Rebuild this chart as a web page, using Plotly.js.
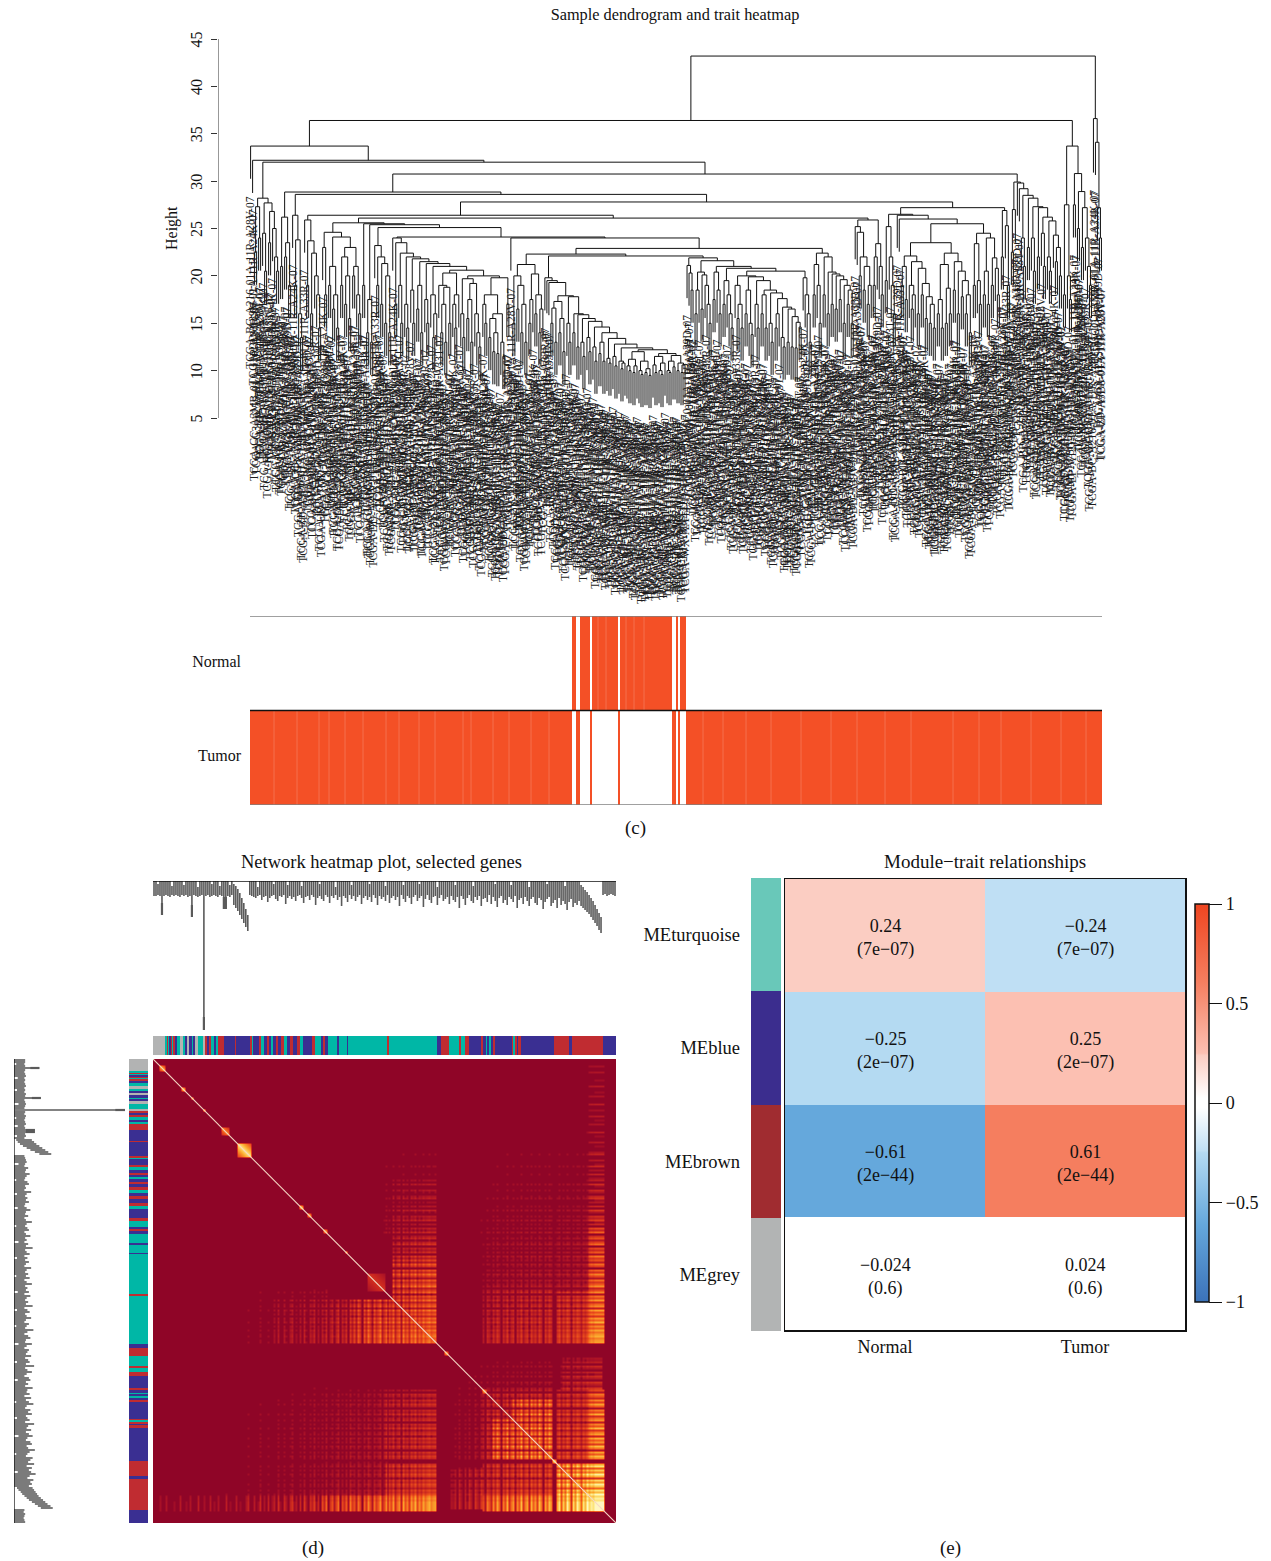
<!DOCTYPE html>
<html><head><meta charset="utf-8">
<script src="https://cdn.plot.ly/plotly-3.0.1.min.js"></script>
<style>html,body{margin:0;padding:0;background:#fff}#g{width:1271px;height:1561px}</style>
</head><body><div id="g"></div>
<script>
// ---------- panel (c): merge height between neighbouring samples, read left to right ----------
const gapsEdge=[33.7,32.2];
const gapsB=[22.5,27.3,24,28.2,24.5,20.5,27.7,23.5,26.8,25,22,20.5,32.0];
const gapsC=[21,26.2,22,23.5,19,28.85];
const gapsD=[26.4,19,23.8,16,13.5,28.6];
const gapsE=[25.9,19,23.7,16,22.4,20,18,14.5,26.4];
const gapsF=[23,18,24.6,19,21,16.5,18,14.5,24.1,19,22,17,20,15.5,23,20,21,18,16,25.6];
const gapsG=[19,25.5];
const gapsH=[14,17.5,13,25.4];
const gapsI=[23.2,19,22,17,21.3,15,20,14,25.1];
const gapsJ=[24,17,23.5,19,15,22.4,17,14.5,22,18.5,15,21.8,16.5,19,14,21.5,17.5,15,21.3,18,13.5,16,21,19,14,17,13,18.8,15,20.3,17,14.5,18,20.6,16,13.5,19.7,15.5,17.5,13,19.2,16,14,12.5,20,17,15,18,13.5,15.5,12,14,11.8,16,13,11.5,19.8,17,24.1];
const gapsK=[24.0];
const gapsL=[15,20,16.5,19,14,17,13,21.2,15,17.5,20.2,16,18,14,16.5,22.3];
const gapsM=[19.8,19.5,19.3,15,16.6,13,17.3,14,15.5,12,17.9,15,13,17.8,14,16,12.5,15.9,13,11.5,15.5,13.5,12,15.2,12.5,11,14.6,11.8,13,11,14,11.3,10.8,13.4,11.5,10.5,12.8,11,10.2,10.8,12.4,10.5,10,11.2,9.8,10.5,12,10,9.6,11,9.8,10.2,9.5,12.2,10.6,9.8,11.5,10,9.6,10.8,11.8,10,9.8,11,10.4,11.6,10,10.8,9.8,10.6,22.1];
const gapsN=[21.1,20.3,18.5,21.9];
const gapsO=[16,18.5,20.4,16.5,20.1,19,17,15,21.6];
const gapsP=[17.5,20.4,18.5,16,21.0];
const gapsQ=[17,19.5,18,16,14.5,20.8];
const gapsR=[19,15.5,17,14.5,20.0];
const gapsS=[16,18.5,15,13.8,19.9,17,14.5,19.5,16,18,14.5,18.5,15,13,18.2,14.5,16,17.6,13.5,12.5,16.7,13,16.5,12.5,15.7,12.4,15.1,14.6,20.5];
const gapsT=[19.8,18,16,13,22.9];
const gapsU=[18,21.2,19,15,22.4,18,22,16,20.4,17,20.2,16.5,20,17.5,19.6,15,19,17,18.5,15,26.1];
const gapsV=[25.2,24.6,20,22,18.5,21,17,19,25.9,19,22,23.4,21,18,27.8];
const gapsW=[19.5,25.2,22,19,16,26.5,26.4,26.0];
const gapsX=[19,21,17.5,22.1,19,16.5,18,21.5,16,20.8,18,19.2,15.5,17.8,15,17,14.5,23.5,16,17.5,14.5,21.2,15,18.7,16,22.4,18.5,21.5,16,20.5,17.8,19.5,16,18,14,25.5];
const gapsY=[19,23.4,19.5,17,24.5,18,20.5,17,24,19,21.9,20.8,18,27.2,22,26.9,25.3,19,30.75];
const gapsZ=[22.5,27,29.9,29.8,29.2,24,21,28.5,23,28.2,24,20.5,27.3,22,27.2,24.5,21,26.2,22,20.5,25.8,24.3,21.5,23,20,36.4];
const gapsRight=[18,27.5,20,17.5,33.7,27.5,30.8,25,28.9,23,27.2,24,21,19,43.2,36.6,34.1,27.2,24];
const longLeafIdx=[421];
const longLeafHang=[5.7];
const sampleIds=['BC-A216','DD-A39V','CC-A3MB','G3-A25S','ED-A7PX','ZP-A9D0','BD-A3EP','FV-A3I1','RC-A6M3','MI-A75G','EP-A12J','2Y-A9GU','DD-AAE2','CC-5258','KR-A7K7','UB-A7MD','NI-A8LF','WX-AA44','GJ-A6C0','LG-A6GG'];
const sampleEnds=['A28V-07','A24K-07','A33R-07','A39D-07','A33T-07'];
const heightTicks=[5,10,15,20,25,30,35,40,45];
// trait rows: first and last sample index of each "Normal" stretch; Tumor is the other samples
const normalRunStart=[161,165,171,185,213,215];
const normalRunEnd=[162,169,183,210,213,217];
const tumorSeams=[11.5,23,34,39,47,56,67.5,74,84,92,106,110,121,129,140,149,226,236,247.5,260,275,290,303,317,330,351,364,375,390,405,417.5];
const normalSeams=[173.5,177.5,187.5,191.5,196.5];
// ---------- panel (d) ----------
const geneDepth=[15,15,14,15,34,15,14,15,16,14,15,14,15,16,14,15,14,16,15,36,14,15,16,15,14,149,15,14,16,15,14,15,16,14,15,28,28,15,16,14,24,27,30,34,38,42,46,50,14,15,
16,17,15,14,19,16,15,21,17,15,14,18,20,15,16,14,23,17,15,18,16,20,15,14,17,22,16,15,19,14,16,24,17,15,18,20,14,16,22,15,17,14,19,16,25,15,17,21,14,18,
15,20,16,14,23,17,15,19,16,21,14,17,24,15,18,16,20,14,22,17,15,19,16,25,14,18,21,15,17,23,16,14,20,17,15,26,18,14,19,22,16,15,24,17,14,20,18,16,23,15,
19,21,16,27,15,18,24,17,14,20,22,16,19,15,25,18,17,21,14,23,16,20,26,17,15,22,19,24,16,18,21,15,27,19,17,23,16,20,25,18,16,22,24,17,19,28,21,18,16,25,
22,19,27,17,24,20,23,29,21,18,26,22,24,20,25,27,29,31,33,36,39,42,45,49,52,14,13,15,14,13,14,15];
const stairIdx=[40,41,42,43,44,45,46,47,214,215,216,217,218,219,220,221,222,223,224,2,9,15,22,29,33,38,52,60,67,74,83,91,99,108,116,125,133,142,151,160,171,179,188,197,206];
const stairTop=[3,5,8,12,17,22,28,34,4,6,9,11,14,17,20,24,28,32,36,3,5,4,6,3,5,4,6,3,4,5,3,6,4,3,5,4,3,6,4,5,3,4,6,3,5];
const thickIdx=[4,19,25,35,36];
const thickFrom=[22,24,136,16,16];
const moduleRunEnd=[12,14,15,16,18,19,20,22,24,27,30,32,34,36,39,40,42,45,50,52,54,56,58,61,63,65,71,82,83,97,99,100,106,108,111,114,116,118,120,123,125,128,131,134,137,140,144,147,150,159,162,168,170,172,175,184,186,194,195,234,236,284,288,296,306,308,312,316,328,330,333,334,336,338,340,342,359,360,362,364,365,368,401,416,419,450,463];
const moduleRunCode=[0,1,3,1,2,3,1,3,2,1,0,1,2,0,2,1,2,0,1,0,3,2,3,1,2,1,3,2,3,2,3,1,2,3,1,2,3,2,1,2,3,2,3,1,2,3,2,3,1,2,3,1,2,3,2,1,2,1,2,1,3,1,2,3,1,3,1,3,2,3,2,1,2,1,2,3,2,3,1,3,2,3,2,3,2,3,2];
const geneLoad=[.05,.1,.05,.25,.08,.05,.3,.1,.15,.05,.2,.05,.08,.35,.05,.1,.2,.05,.3,.1,.05,.15,.4,.05,.1,.25,.08,.05,.35,.1,.2,.05,.3,.15,.05,.1,.4,.08,.2,.05,.15,.35,.05,.2,.1,.05,.3,.45,.1,.05,
.35,.1,.2,.5,.08,.3,.15,.45,.05,.25,.4,.1,.55,.2,.05,.5,.3,.1,.45,.6,.2,.35,.08,.5,.15,.65,.3,.1,.55,.4,.7,.2,.5,.1,.6,.35,.75,.15,.45,.65,.25,.55,.8,.1,.6,.4,.7,.2,.85,.5,
.65,.3,.8,.55,.15,.75,.45,.9,.6,.25,.8,.5,.7,.95,.35,.6,.85,.2,.75,.55,.9,.4,.7,.85,.3,.95,.6,.8,.45,.9,.7,1,.55,.85,.65,.95,.75,.9,1,.8,.9,.95,.08,.1,.05,.15,.1,.08,.12,.3,
.25,.4,.15,.5,.3,.1,.45,.2,.55,.35,.1,.6,.4,.25,.65,.5,.2,.7,.55,.3,.75,.45,.85,.6,.15,.7,.5,.9,.35,.65,.8,.25,.75,.55,.95,.4,.7,.85,.3,.9,.6,.8,.45,.95,.7,.2,.85,.6,.95,.75,
.1,.55,.7,.9,.45,.8,.6,.95,.75,.3,.85,.65,.95,.8,.5,.9,.75,1,.85,.95,.9,1,1,1,1,1,.15,.08,.25,.05,.1,.05];
// overlap strength between gene groups: firstA,lastA,firstB,lastB,strength (gene-group indices)
const tomBlocks=[[120,141,100,141,.62],[88,120,121,141,.42],[120,141,60,100,.36],[120,141,20,60,.22],[20,88,114,141,.24],[148,165,148,165,.32],[165,200,165,200,.5],[180,200,170,200,.85],[165,200,115,141,.38],[202,225,202,225,1],[202,218,165,200,.52],[218,225,165,200,.8],[202,217,116,141,.46],[218,225,116,141,.72],[202,225,85,116,.26],[218,225,0,116,.5],[204,224,145,166,.5],[218,225,83,116,.66],[218,225,20,83,.38],[165,200,145,166,.3],[165,217,30,116,.25],[148,225,20,88,.22]];
const tomSpots=[[3,5,.7],[14,15,.8],[19,19,.8],[25,25,.9],[34,37,.6],[42,48,.9],[73,74,.8],[77,78,.7],[85,86,.7],[96,96,.8],[107,115,.3],[146,147,.7],[165,166,.7],[200,201,.9]];
// ---------- panel (e) ----------
const modules=['MEturquoise','MEblue','MEbrown','MEgrey'];
const traits=['Normal','Tumor'];
const corr=[[0.24,-0.24],[-0.25,0.25],[-0.61,0.61],[-0.024,0.024]];
const corrText=[['0.24','−0.24'],['−0.25','0.25'],['−0.61','0.61'],['−0.024','0.024']];
const pText=[['(7e−07)','(7e−07)'],['(2e−07)','(2e−07)'],['(2e−44)','(2e−44)'],['(0.6)','(0.6)']];
const colorbarTicks=[-1,-0.5,0,0.5,1];
const colorbarLabels=['−1','−0.5','0','0.5','1'];

const W=1271,H=1561,FONT='"Liberation Serif",serif';
const dx=(a,b)=>[a/W,b/W];
const dy=(a,b)=>[1-b/H,1-a/H];
const hidden={visible:false,showgrid:false,zeroline:false,fixedrange:true};

// dendrogram from neighbour merge heights
const gaps=[].concat(gapsEdge,gapsB,gapsC,gapsD,gapsE,gapsF,gapsG,gapsH,gapsI,gapsJ,gapsK,gapsL,gapsM,gapsN,gapsO,gapsP,gapsQ,gapsR,gapsS,gapsT,gapsU,gapsV,gapsW,gapsX,gapsY,gapsZ,gapsRight);
const HANG=3.45;
const hangOf=i=>{const p=longLeafIdx.indexOf(i);return p>=0?longLeafHang[p]:HANG;};
const segX=[],segY=[],leafX=[],leafY=[];
function build(lo,hi){
  if(lo===hi) return {x:lo,h:null};
  let k=lo; for(let i=lo;i<hi;i++) if(gaps[i]>gaps[k]) k=i;
  const l=build(lo,k),r=build(k+1,hi),h=gaps[k];
  const lb=l.h===null?h-hangOf(l.x):l.h, rb=r.h===null?h-hangOf(r.x):r.h;
  if(l.h===null){leafX.push(l.x);leafY.push(lb);}
  if(r.h===null){leafX.push(r.x);leafY.push(rb);}
  segX.push(l.x,l.x,r.x,r.x,null); segY.push(lb,h,h,rb,null);
  return {x:(l.x+r.x)/2,h};
}
build(0,gaps.length);
const nLeaves=gaps.length+1;
const dLo=(218-250.6)/2.002,dHi=(1105-250.6)/2.002;

const annotations=[];
leafX.forEach((x,n)=>{
  const i=x, id=sampleIds[i%sampleIds.length], end=sampleEnds[i%sampleEnds.length];
  const normal=normalRunStart.some((s,j)=>i>=s&&i<=normalRunEnd[j]);
  annotations.push({xref:'x',yref:'y',x:x,y:leafY[n],yshift:-16,text:'TCGA-'+id+(normal?'-11A':'-01A')+'-11R-'+end,showarrow:false,textangle:-90,xanchor:'center',yanchor:'top',borderpad:0,opacity:0.98,font:{family:FONT,size:11.5,color:'#1a1a1a'}});
});
function paperText(t,x,y,size,angle){annotations.push({xref:'paper',yref:'paper',x:x/W,y:1-y/H,text:t,showarrow:false,textangle:angle||0,xanchor:'center',yanchor:'middle',font:{family:FONT,size:size,color:'#111'}});}
paperText('Height',172,228,16,-90);
paperText('(c)',635,828,19);paperText('(d)',313,1548,19);paperText('(e)',951,1548,19);
paperText('Network heatmap plot, selected genes',381,862,18.5);
paperText('Module−trait relationships',985,862,19);
for(let r=0;r<4;r++)for(let c=0;c<2;c++){
  annotations.push({xref:'x9',yref:'y9',x:c,y:r,yshift:-3,text:corrText[r][c]+'<br>'+pText[r][c],showarrow:false,xanchor:'center',yanchor:'middle',font:{family:FONT,size:18,color:'#111'}});
}

const traces=[];
// panel c
traces.push({type:'scatter',mode:'lines',x:segX,y:segY,xaxis:'x',yaxis:'y',line:{color:'#111',width:1},hoverinfo:'skip',showlegend:false});
traces.push({type:'scatter',mode:'lines',x:[dLo,dLo],y:[heightTicks[0],heightTicks[heightTicks.length-1]],xaxis:'x',yaxis:'y',line:{color:'#333',width:1},cliponaxis:false,hoverinfo:'skip',showlegend:false});
const normalRow=[],tumorRow=[];
for(let i=0;i<nLeaves;i++){const n=normalRunStart.some((s,j)=>i>=s&&i<=normalRunEnd[j])?1:0;normalRow.push(n);tumorRow.push(1-n);}
traces.push({type:'heatmap',z:[normalRow,tumorRow],x:normalRow.map((_,i)=>i),y:[0,1],xaxis:'x2',yaxis:'y2',zmin:0,zmax:1,colorscale:[[0,'#ffffff'],[1,'#f45026']],showscale:false,hoverinfo:'skip'});
const sx=[],sy=[];
tumorSeams.forEach(v=>sx.push(v,v,null));tumorSeams.forEach(()=>sy.push(0.5,1.5,null));
normalSeams.forEach(v=>{sx.push(v,v,null);sy.push(-0.5,0.5,null);});
traces.push({type:'scatter',mode:'lines',x:sx,y:sy,xaxis:'x2',yaxis:'y2',line:{color:'#ffffff',width:1},opacity:0.18,hoverinfo:'skip',showlegend:false});
[[-0.5,'#808080'],[0.5,'#111111'],[1.5,'#808080']].forEach(v=>traces.push({type:'scatter',mode:'lines',x:[-0.5,nLeaves-0.5],y:[v[0],v[0]],xaxis:'x2',yaxis:'y2',line:{color:v[1],width:1.3},cliponaxis:false,hoverinfo:'skip',showlegend:false}));

// panel d : gene dendrograms
const stemA=[],stemB=[],stairMap={};
stairIdx.forEach((k,i)=>stairMap[k]=stairTop[i]);
geneDepth.forEach((d,k)=>{stemA.push(k,k,null);stemB.push(stairMap[k]||0,d,null);});
const thickA=[],thickB=[];
thickIdx.forEach((k,i)=>{thickA.push(k,k,null);thickB.push(thickFrom[i],geneDepth[k],null);});
traces.push({type:'scatter',mode:'lines',x:stemA,y:stemB,xaxis:'x3',yaxis:'y3',line:{color:'#5a5a5a',width:1.6},hoverinfo:'skip',showlegend:false});
traces.push({type:'scatter',mode:'lines',x:thickA,y:thickB,xaxis:'x3',yaxis:'y3',line:{color:'#5a5a5a',width:2.2},hoverinfo:'skip',showlegend:false});
traces.push({type:'scatter',mode:'lines',x:[-0.5,231.5],y:[0,0],xaxis:'x3',yaxis:'y3',line:{color:'#111',width:1.3},cliponaxis:false,hoverinfo:'skip',showlegend:false});
traces.push({type:'scatter',mode:'lines',x:stemB,y:stemA,xaxis:'x5',yaxis:'y5',line:{color:'#5a5a5a',width:1.6},hoverinfo:'skip',showlegend:false});
traces.push({type:'scatter',mode:'lines',x:thickB,y:thickA,xaxis:'x5',yaxis:'y5',line:{color:'#5a5a5a',width:2.2},hoverinfo:'skip',showlegend:false});
traces.push({type:'scatter',mode:'lines',x:[0,0],y:[-0.5,231.5],xaxis:'x5',yaxis:'y5',line:{color:'#111',width:1.3},cliponaxis:false,hoverinfo:'skip',showlegend:false});
// module colour bars
const moduleCodes=[];let prev=0;
moduleRunEnd.forEach((e,i)=>{for(let t=prev;t<e;t++)moduleCodes.push(moduleRunCode[i]);prev=e;});
const moduleScale=[[0,'#b2b3b3'],[0.25,'#b2b3b3'],[0.25,'#00b7a6'],[0.5,'#00b7a6'],[0.5,'#3a2f92'],[0.75,'#3a2f92'],[0.75,'#c02c31'],[1,'#c02c31']];
traces.push({type:'heatmap',z:[moduleCodes],xaxis:'x4',yaxis:'y4',zmin:-0.5,zmax:3.5,colorscale:moduleScale,showscale:false,hoverinfo:'skip'});
traces.push({type:'heatmap',z:moduleCodes.map(c=>[c]),xaxis:'x6',yaxis:'y6',zmin:-0.5,zmax:3.5,colorscale:moduleScale,showscale:false,hoverinfo:'skip'});
// TOM heat map
const nG=geneLoad.length,tom=[];
for(let i=0;i<nG;i++){const row=[];for(let j=0;j<nG;j++){
  let v=0;
  tomBlocks.forEach(b=>{
    if((i>=b[0]&&i<=b[1]&&j>=b[2]&&j<=b[3])||(j>=b[0]&&j<=b[1]&&i>=b[2]&&i<=b[3])) v=Math.max(v,b[4]*geneLoad[i]*geneLoad[j]);
  });
  if(v<0.1) v=0;
  tomSpots.forEach(s=>{
    if(i>=s[0]&&i<=s[1]&&j>=s[0]&&j<=s[1]){const size=s[1]-s[0]+1;v=Math.max(v,s[2]*(1-0.6*Math.abs(i-j)/size));}
  });
  row.push(v);
}tom.push(row);}
traces.push({type:'heatmap',z:tom,xaxis:'x7',yaxis:'y7',zmin:0,zmax:1,zsmooth:'best',showscale:false,hoverinfo:'skip',
  colorscale:[[0,'#8f0527'],[0.12,'#a60f27'],[0.25,'#c9261f'],[0.45,'#ee521c'],[0.7,'#fba82c'],[0.9,'#fde47a'],[1,'#fff6c0']]});
traces.push({type:'scatter',mode:'lines',x:[-0.5,nG-0.5],y:[-0.5,nG-0.5],xaxis:'x7',yaxis:'y7',line:{color:'#f6d8c4',width:1.1},hoverinfo:'skip',showlegend:false});
// panel e
traces.push({type:'heatmap',z:[[0],[1],[2],[3]],x:[0],y:[0,1,2,3],xaxis:'x8',yaxis:'y8',zmin:-0.5,zmax:3.5,showscale:false,hoverinfo:'skip',
  colorscale:[[0,'#69c8b9'],[0.25,'#69c8b9'],[0.25,'#3b2d8e'],[0.5,'#3b2d8e'],[0.5,'#a02c30'],[0.75,'#a02c30'],[0.75,'#b2b4b4'],[1,'#b2b4b4']]});
traces.push({type:'heatmap',z:corr,x:[0,1],y:[0,1,2,3],xaxis:'x9',yaxis:'y9',zmin:-1,zmax:1,hoverinfo:'skip',
  colorscale:[[0,'#3b72b9'],[0.195,'#65a8dc'],[0.375,'#b4daf2'],[0.38,'#bfdff4'],[0.488,'#ffffff'],[0.512,'#ffffff'],[0.62,'#fbcdc2'],[0.625,'#fcc0b2'],[0.805,'#f57e5f'],[1,'#ee4520']],
  colorbar:{x:1195/W,xanchor:'left',xpad:0,y:1-1103/H,yanchor:'middle',ypad:0,len:398,lenmode:'pixels',thickness:14,thicknessmode:'pixels',outlinecolor:'#111',outlinewidth:1.5,borderwidth:0,ticks:'outside',ticklen:13,tickwidth:1,tickcolor:'#111',tickmode:'array',tickvals:colorbarTicks,ticktext:colorbarLabels,tickfont:{family:FONT,size:18,color:'#111'}}});

const layout={width:W,height:H,margin:{l:0,r:0,t:0,b:0},paper_bgcolor:'#fff',plot_bgcolor:'rgba(0,0,0,0)',showlegend:false,hovermode:false,
  title:{text:'Sample dendrogram and trait heatmap',x:675/W,xanchor:'center',y:1-14/H,yanchor:'middle',font:{family:FONT,size:16.3,color:'#111'}},
  annotations,
  xaxis:{...hidden,domain:dx(218,1105),range:[dLo,dHi],anchor:'y'},
  yaxis:{domain:dy(39,610),range:[5-(610-418)/9.475,45],anchor:'x',showgrid:false,zeroline:false,showline:false,tickmode:'array',tickvals:heightTicks,ticks:'outside',ticklen:6,tickcolor:'#333',tickangle:-90,ticklabelstandoff:3,ticklabelshift:3,tickfont:{family:FONT,size:16,color:'#111'}},
  xaxis2:{...hidden,domain:dx(250,1102),range:[-0.5,nLeaves-0.5],anchor:'y2'},
  yaxis2:{domain:dy(616,805),range:[1.5,-0.5],anchor:'x2',showgrid:false,zeroline:false,tickmode:'array',tickvals:[0,1],ticktext:traits,ticks:'',ticklabelstandoff:8,ticklabelshift:2,tickfont:{family:FONT,size:16,color:'#111'}},
  xaxis3:{...hidden,domain:dx(153,616),range:[-0.5,231.5],anchor:'y3'},
  yaxis3:{...hidden,domain:dy(881,1030),range:[149,0],anchor:'x3'},
  xaxis4:{...hidden,domain:dx(153,616),anchor:'y4'},
  yaxis4:{...hidden,domain:dy(1036,1055),anchor:'x4'},
  xaxis5:{...hidden,domain:dx(14,125),range:[0,149],anchor:'y5'},
  yaxis5:{...hidden,domain:dy(1059,1523),range:[231.5,-0.5],anchor:'x5'},
  xaxis6:{...hidden,domain:dx(129,148),anchor:'y6'},
  yaxis6:{...hidden,domain:dy(1059,1523),autorange:'reversed',anchor:'x6'},
  xaxis7:{...hidden,domain:dx(153,616),range:[-0.5,nG-0.5],anchor:'y7'},
  yaxis7:{...hidden,domain:dy(1059,1523),range:[nG-0.5,-0.5],anchor:'x7'},
  xaxis8:{...hidden,domain:dx(751,781),anchor:'y8'},
  yaxis8:{domain:dy(878,1331),range:[3.5,-0.5],anchor:'x8',showgrid:false,zeroline:false,showline:false,tickmode:'array',tickvals:[0,1,2,3],ticktext:modules,ticks:'',ticklabelstandoff:10,tickfont:{family:FONT,size:18.5,color:'#111'}},
  xaxis9:{domain:dx(785,1185),range:[-0.5,1.5],anchor:'y9',showgrid:false,zeroline:false,showline:true,mirror:true,linecolor:'#111',linewidth:1.5,tickmode:'array',tickvals:[0,1],ticktext:traits,ticks:'',ticklabelstandoff:0,tickfont:{family:FONT,size:18,color:'#111'}},
  yaxis9:{domain:dy(879,1330),range:[3.5,-0.5],anchor:'x9',showgrid:false,zeroline:false,showline:true,mirror:true,linecolor:'#111',linewidth:1.5,showticklabels:false,ticks:''}
};
Plotly.newPlot('g',traces,layout,{displayModeBar:false,staticPlot:true});
</script></body></html>
